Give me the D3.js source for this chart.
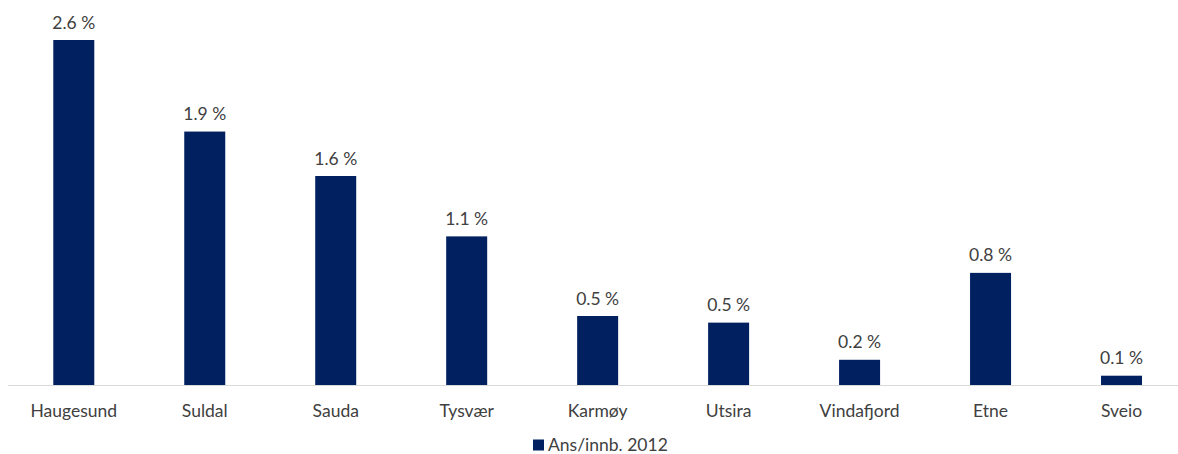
<!DOCTYPE html>
<html>
<head>
<meta charset="utf-8">
<script src="https://cdn.jsdelivr.net/npm/d3@7"></script>
<style>
  html, body { margin: 0; padding: 0; background: #fff; }
  svg { display: block; font-family: Lato, "Open Sans", sans-serif; }
</style>
</head>
<body>
<svg id="chart" width="1178" height="454"></svg>
<script>
// Employees per inhabitant, 2012, by municipality
const municipalities = ["Haugesund", "Suldal", "Sauda", "Tysvær", "Karmøy", "Utsira", "Vindafjord", "Etne", "Sveio"];
const share2012 = [2.6, 1.91, 1.575, 1.12, 0.52, 0.47, 0.19, 0.845, 0.07];
const seriesName = "Ans/innb. 2012";

const svg = d3.select("#chart");
const barColor = "#002060";
const textColor = "#404040";
const fontSize = 17.5;

const baseline = 385;
const x = d3.scaleBand()
  .domain(municipalities)
  .range([8.3, 1187])
  .paddingInner(0.687)
  .paddingOuter(0.3435);

const y = d3.scaleLinear()
  .domain([0, 2.6])
  .range([baseline, 40]);

const fmt = v => d3.format(".1f")(v) + " %";

const data = municipalities.map((m, i) => ({ name: m, value: share2012[i] }));

// bars
svg.append("g")
  .selectAll("rect")
  .data(data)
  .join("rect")
  .attr("x", d => x(d.name))
  .attr("y", d => y(d.value))
  .attr("width", x.bandwidth())
  .attr("height", d => baseline - y(d.value))
  .attr("fill", barColor);

// category axis
const axis = svg.append("g")
  .attr("transform", `translate(0,${baseline})`)
  .call(d3.axisBottom(x).tickSize(0).tickPadding(0));
axis.select(".domain").attr("d", "M8,0.5H1178").attr("stroke", "#d9d9d9").attr("stroke-width", 1);
axis.selectAll("text")
  .attr("y", 32)
  .attr("dy", null)
  .attr("font-size", fontSize)
  .attr("font-family", "Lato, 'Open Sans', sans-serif")
  .attr("fill", textColor);

// value labels
svg.append("g")
  .selectAll("text")
  .data(data)
  .join("text")
  .attr("x", d => x(d.name) + x.bandwidth() / 2)
  .attr("y", d => y(d.value) - 11.5)
  .attr("text-anchor", "middle")
  .attr("font-size", fontSize)
  .attr("fill", textColor)
  .text(d => fmt(d.value));

// legend
const legend = svg.append("g").attr("transform", "translate(533,439.5)");
legend.append("rect").attr("width", 11).attr("height", 11).attr("fill", barColor);
legend.append("text")
  .attr("x", 15)
  .attr("y", 11)
  .attr("font-size", fontSize)
  .attr("fill", textColor)
  .text(seriesName);
</script>
</body>
</html>
